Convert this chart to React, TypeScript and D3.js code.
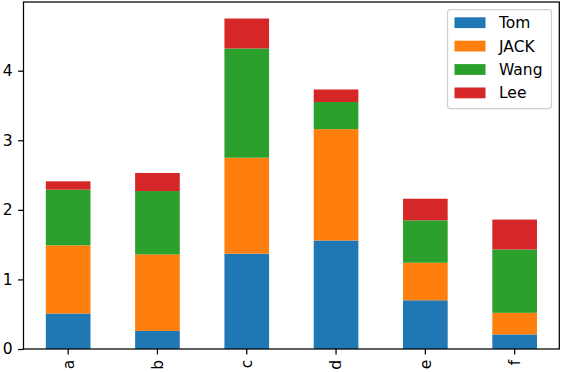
import React, { useEffect, useRef } from 'react';
import * as d3 from 'd3';

const categories = ['a', 'b', 'c', 'd', 'e', 'f'];
const seriesNames = ['Tom', 'JACK', 'Wang', 'Lee'];
const tomValues = [0.51, 0.26, 1.37, 1.56, 0.70, 0.21];
const jackValues = [0.98, 1.10, 1.38, 1.60, 0.54, 0.31];
const wangValues = [0.80, 0.91, 1.57, 0.39, 0.61, 0.91];
const leeValues = [0.12, 0.26, 0.43, 0.18, 0.31, 0.43];
const yTicks = [0, 1, 2, 3, 4];
const colors = ['#1f77b4', '#ff7f0e', '#2ca02c', '#d62728'];

const App: React.FC = () => {
  const svgRef = useRef<SVGSVGElement>(null);

  useEffect(() => {
    if (!svgRef.current) return;
    document.body.style.margin = '0';
    const width = 572;
    const height = 372;
    const margin = { top: 2, right: 12.7, bottom: 23, left: 23.5 };
    const innerW = width - margin.left - margin.right;
    const innerH = height - margin.top - margin.bottom;

    const svg = d3.select(svgRef.current);
    svg.selectAll('*').remove();

    const rows = categories.map((c, i) => ({
      cat: c,
      Tom: tomValues[i],
      JACK: jackValues[i],
      Wang: wangValues[i],
      Lee: leeValues[i],
    }));
    const stacked = d3.stack<any>().keys(seriesNames)(rows);
    const maxTotal = d3.max(rows, r => r.Tom + r.JACK + r.Wang + r.Lee) || 5;

    const x = d3.scaleBand().domain(categories).range([0, innerW]).paddingInner(0.5).paddingOuter(0.25);
    const y = d3.scaleLinear().domain([0, maxTotal * 1.05]).range([innerH, 0]);

    const g = svg.append('g').attr('transform', `translate(${margin.left},${margin.top})`);

    // Bars
    stacked.forEach((layer, si) => {
      g.append('g')
        .selectAll('rect')
        .data(layer)
        .enter()
        .append('rect')
        .attr('x', d => x(d.data.cat) || 0)
        .attr('width', x.bandwidth())
        .attr('y', d => y(d[1]))
        .attr('height', d => y(d[0]) - y(d[1]))
        .attr('fill', colors[si]);
    });

    // Axes
    const font = 'DejaVu Sans, sans-serif';
    const fs = '15.5px';
    const yAxis = g.append('g')
      .call(d3.axisLeft(y).tickValues(yTicks).tickSize(5.4).tickPadding(5.4).tickFormat(d3.format('d')));
    yAxis.select('.domain').remove();
    yAxis.selectAll('line').attr('stroke', '#000').attr('stroke-width', 1.25);
    yAxis.selectAll('text').style('font-family', font).style('font-size', fs).attr('fill', '#000');

    const xAxis = g.append('g')
      .attr('transform', `translate(0,${innerH})`)
      .call(d3.axisBottom(x).tickSize(5.4).tickPadding(0));
    xAxis.select('.domain').remove();
    xAxis.selectAll('line').attr('stroke', '#000').attr('stroke-width', 1.25);
    xAxis.selectAll('text')
      .style('font-family', font)
      .style('font-size', fs)
      .attr('fill', '#000')
      .attr('transform', 'translate(0,10.8) rotate(-90)')
      .attr('text-anchor', 'end')
      .attr('dx', 0)
      .attr('dy', '0.35em')
      .attr('y', 0)
      .attr('x', 0);

    // Frame
    g.append('rect')
      .attr('x', 0).attr('y', 0)
      .attr('width', innerW).attr('height', innerH)
      .attr('fill', 'none').attr('stroke', '#000').attr('stroke-width', 1.25);

    // Legend
    const lg = svg.append('g').attr('transform', 'translate(447.5,9.5)');
    lg.append('rect')
      .attr('width', 104).attr('height', 99).attr('rx', 3)
      .attr('fill', 'rgba(255,255,255,0.8)').attr('stroke', '#d0d0d0').attr('stroke-width', 1.25);
    seriesNames.forEach((name, i) => {
      const cy = 13.2 + i * 23.4;
      lg.append('rect')
        .attr('x', 7).attr('y', cy - 5.4).attr('width', 31).attr('height', 10.8)
        .attr('fill', colors[i]);
      lg.append('text')
        .attr('x', 51.5).attr('y', cy).attr('dy', '0.35em')
        .style('font-family', font).style('font-size', fs).attr('fill', '#000')
        .text(name);
    });
  }, []);

  return <svg ref={svgRef} width={572} height={372} style={{ display: 'block' }} />;
};

export default App;
